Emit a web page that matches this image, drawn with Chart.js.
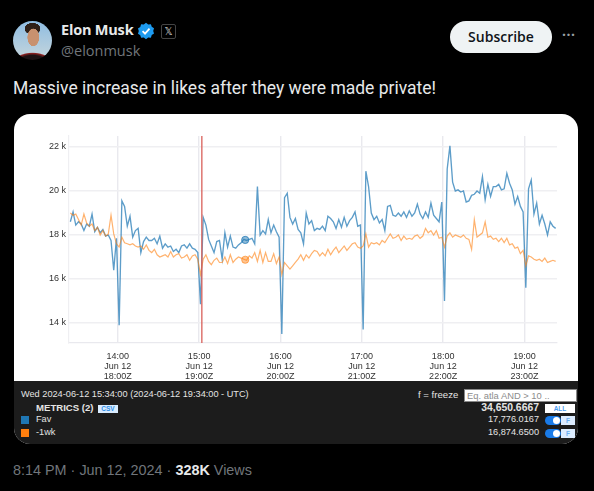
<!DOCTYPE html>
<html><head><meta charset="utf-8">
<script src="https://cdn.jsdelivr.net/npm/chart.js@4"></script>
<style>
html,body{margin:0;padding:0;background:#000;width:594px;height:491px;overflow:hidden}
body{position:relative;font-family:"Open Sans","Noto Sans",sans-serif;color:#e7e9ea}
.a{position:absolute;white-space:nowrap;line-height:1}
#avatar{left:13px;top:21px;width:39px;height:39px;border-radius:50%;overflow:hidden;
background:radial-gradient(ellipse 6px 9px at 52% 42%,#c8916f 0 95%,transparent 100%),radial-gradient(ellipse 8px 6px at 50% 20%,#2e2018 0 95%,transparent 100%),radial-gradient(ellipse 19px 10px at 50% 106%,#1c1214 0 70%,#8a2020 90%,transparent 100%),linear-gradient(#8fbde2,#c6d6dc)}
#card{left:14px;top:114px;width:564px;height:330px;border-radius:16px;overflow:hidden;background:#fff}
#chartbox{position:absolute;left:0;top:0;width:564px;height:267px}
#panel{position:absolute;left:0;top:267px;width:564px;height:63px;background:#1c1c1c}
.p{font-family:"Liberation Sans",sans-serif;font-size:9.2px;color:#e4e4e4}
.pv{font-family:"Liberation Sans",sans-serif;font-size:9.2px;color:#e4e4e4;right:39px}
</style></head><body>
<div class="a" id="avatar"></div>
<div class="a" style="left:61px;top:23px;font-size:14.5px;font-weight:700;letter-spacing:-.2px">Elon Musk</div>
<svg class="a" style="left:137px;top:22px" width="18" height="18" viewBox="0 0 22 22"><path fill="#1d9bf0" d="M11 1l2.700 2 3.300-.3 1 3.200 2.800 1.800-1 3.200 1 3.200-2.800 1.800-1 3.200-3.300-.3L11 21l-2.700-2-3.300.3-1-3.200-2.800-1.800 1-3.200-1-3.200 2.800-1.800 1-3.200 3.300.3z"/><path fill="none" stroke="#fff" stroke-width="2.2" d="M6.800 11.200l3 3 5.500-6"/></svg>
<div class="a" style="left:161px;top:24px;width:13px;height:13px;border:1px solid #444;border-radius:2px;font-size:10px;text-align:center;line-height:13px;color:#d8d8d8;font-family:'DejaVu Sans'">𝕏</div>
<div class="a" style="left:61px;top:44px;font-size:14.5px;color:#71767b">@elonmusk</div>
<div class="a" style="left:450px;top:21px;width:102px;height:32px;border-radius:16px;background:#eff3f4;color:#0f1419;font-size:14px;font-weight:600;text-align:center;line-height:31px">Subscribe</div>
<div class="a" style="left:562px;top:28px;font-size:14px;color:#9a9fa3;letter-spacing:.5px;font-weight:700">···</div>
<div class="a" style="left:13px;top:80px;font-size:17.5px;color:#e7e9ea;font-family:Roboto,sans-serif">Massive increase in likes after they were made private!</div>
<div class="a" id="card">
<div id="chartbox"><canvas id="c" width="564" height="267" style="width:564px;height:267px;display:block;filter:blur(.35px)"></canvas></div>
<div id="panel">
<div class="a p" style="left:7px;top:9px">Wed 2024-06-12 15:34:00 (2024-06-12 19:34:00 - UTC)</div>
<div class="a p" style="left:22px;top:22px;font-weight:700;font-size:9.6px">METRICS (2)</div>
<div class="a" style="left:84px;top:24px;width:20px;height:8px;background:#d9ecff;color:#2f8fe8;font:700 6.5px 'Liberation Sans';text-align:center;line-height:8px">CSV</div>
<div class="a" style="left:7px;top:35px;width:8px;height:8px;background:#1f77b4"></div>
<div class="a p" style="left:22px;top:34px">Fav</div>
<div class="a" style="left:7px;top:48px;width:8px;height:8px;background:#ff7f0e"></div>
<div class="a p" style="left:22px;top:47px">-1wk</div>
<div class="a p" style="left:404px;top:9px;font-size:9.6px">f = freeze</div>
<div class="a" style="left:450px;top:8px;width:109px;height:11px;background:#fff;border:.5px solid #888;color:#8c8c8c;font:9.4px 'Liberation Sans';line-height:11px;padding-left:2px;box-sizing:content-box">Eq. atla AND &gt; 10 ..</div>
<div class="a pv" style="top:22px;font-weight:700;font-size:10.4px">34,650.6667</div>
<div class="a pv" style="top:34px">17,776.0167</div>
<div class="a pv" style="top:47px">16,874.6500</div>
<div class="a" style="left:531px;top:23px;width:30px;height:9px;background:#fff;color:#4a9cf0;font:700 6.5px 'Liberation Sans';text-align:center;line-height:9px">ALL</div>
<div class="a" style="left:531px;top:35px;width:16px;height:9px;border-radius:5px;background:#1a7be8"></div>
<div class="a" style="left:539px;top:36px;width:7px;height:7px;border-radius:50%;background:#fff"></div>
<div class="a" style="left:547px;top:35px;width:14px;height:9px;background:#dcecff;color:#6aaef0;font:700 6.5px 'Liberation Sans';text-align:center;line-height:9px">F</div>
<div class="a" style="left:531px;top:48px;width:16px;height:9px;border-radius:5px;background:#1a7be8"></div>
<div class="a" style="left:539px;top:49px;width:7px;height:7px;border-radius:50%;background:#fff"></div>
<div class="a" style="left:547px;top:48px;width:14px;height:9px;background:#dcecff;color:#6aaef0;font:700 6.5px 'Liberation Sans';text-align:center;line-height:9px">F</div>
</div></div>
<div class="a" style="left:13px;top:463px;font-size:14.4px;color:#71767b;font-family:'Liberation Sans'">8:14 PM · Jun 12, 2024 · <b style="color:#e7e9ea">328K</b> Views</div>
<script>
const favValues=[18.6,19.05,18.45,18.6,18.5,18.2,18.5,18.4,18.95,18.15,18.35,18.1,18.25,17.95,18.0,17.75,16.4,17.85,13.9,19.55,
19.3,18.4,18.85,17.9,18.2,18.3,17.2,17.7,17.9,17.75,17.75,17.85,17.6,17.95,17.4,17.6,17.45,17.5,17.25,17.35,
17.2,17.5,17.55,17.4,17.6,17.4,17.35,17.2,14.85,18.8,18.45,17.8,17.5,17.2,17.7,17.75,16.9,18.1,17.45,17.95,
17.45,17.4,17.55,17.65,17.8,17.75,17.8,17.85,17.6,20.2,18.0,18.2,18.05,18.7,18.1,18.45,18.15,17.9,13.5,19.7,
19.9,18.8,18.5,18.75,18.25,18.1,17.6,19.0,18.5,18.65,18.2,18.3,18.25,18.4,18.2,18.85,18.75,18.6,18.3,18.7,
18.35,18.8,18.4,18.65,18.8,19.05,18.4,18.45,13.7,20.9,20.2,19.0,18.7,18.85,18.55,18.7,18.2,19.3,19.35,18.9,
18.85,19.0,18.85,19.05,18.8,19.1,18.85,19.0,19.4,18.95,18.75,19.05,18.8,19.45,18.9,18.75,18.6,19.5,15.0,21.0,
22.05,20.4,20.0,20.05,19.95,20.0,19.5,19.55,19.8,19.85,20.0,19.9,20.65,19.6,20.3,19.75,20.2,20.2,20.3,20.05,
20.1,20.8,20.35,20.05,19.4,19.75,19.3,19.05,15.6,20.1,20.5,18.95,19.45,18.5,18.9,18.5,18.0,18.6,18.4,18.3];
const weekValues=[19.0,18.9,18.95,18.7,18.45,18.95,18.55,18.4,18.5,18.2,18.35,18.0,18.2,17.95,18.05,18.9,18.05,17.6,17.45,17.9,
17.65,17.6,17.55,17.6,17.5,17.45,17.5,17.35,17.55,17.3,17.2,17.35,17.1,17.0,17.05,17.1,17.0,17.25,17.0,17.1,
17.15,16.95,17.0,17.1,16.85,17.05,17.1,16.9,16.2,16.9,17.1,16.8,16.65,16.85,16.95,16.75,16.75,17.0,16.7,17.1,
16.75,16.9,17.0,16.95,16.9,16.85,17.05,16.95,17.2,16.8,17.3,16.75,17.2,16.8,16.8,17.15,16.7,17.0,16.2,16.75,
16.6,16.45,16.6,16.75,16.9,17.1,16.85,17.1,16.95,17.15,17.3,17.25,17.05,17.2,17.05,17.35,17.1,17.3,17.45,17.2,
17.35,17.5,17.3,17.45,17.6,17.65,17.45,17.4,17.5,18.05,17.45,17.65,17.6,17.65,17.55,17.75,17.65,17.85,18.05,17.85,
17.9,18.0,17.75,17.95,17.8,17.85,17.8,17.95,18.0,17.85,17.95,18.3,18.1,18.2,18.0,18.2,17.85,17.9,17.45,17.95,
18.1,17.9,18.0,17.95,17.9,18.0,17.85,17.8,17.35,18.7,17.9,18.0,18.1,18.6,17.9,17.95,17.8,17.85,17.7,17.85,
17.65,17.85,17.55,17.6,17.4,17.45,17.15,17.3,16.6,17.05,17.0,16.9,16.85,16.9,16.8,16.95,16.75,16.8,16.85,16.8];
const yTicks=[14,16,18,20,22];
const hourTicks=[840,900,960,1020,1080,1140]; // minutes after midnight, local
const hourLabels={840:["14:00","Jun 12","18:00Z"],900:["15:00","Jun 12","19:00Z"],960:["16:00","Jun 12","20:00Z"],1020:["17:00","Jun 12","21:00Z"],1080:["18:00","Jun 12","22:00Z"],1140:["19:00","Jun 12","23:00Z"]};
const firstMinute=805, stepMinutes=2;
const cursorMinute=934, cursorFav=17.776, cursorWeek=16.875;
const eventMinute=902;
const toXY=a=>a.map((v,i)=>({x:firstMinute+i*stepMinutes,y:v}));
const yMin=13.09,yMax=22.5,xMin=804,xMax=1164;
new Chart(document.getElementById('c'),{type:'line',data:{datasets:[
 {data:[{x:eventMinute,y:yMin},{x:eventMinute,y:yMax}],borderColor:'#d9605a',borderWidth:1.3,pointRadius:0,order:1},
 {data:toXY(favValues),borderColor:'rgba(31,119,180,.72)',borderWidth:1.35,pointRadius:0,order:3},
 {data:toXY(weekValues),borderColor:'rgba(255,127,14,.6)',borderWidth:1.2,pointRadius:0,order:2},
 {data:[{x:cursorMinute,y:cursorFav}],pointRadius:3.6,pointBackgroundColor:'rgba(31,119,180,.5)',pointBorderColor:'rgba(31,119,180,.75)',pointBorderWidth:1,showLine:false,order:2},
 {data:[{x:cursorMinute,y:cursorWeek}],pointRadius:3.6,pointBackgroundColor:'rgba(255,127,14,.45)',pointBorderColor:'rgba(255,127,14,.6)',pointBorderWidth:1,showLine:false,order:2}
]},options:{responsive:false,animation:false,events:[],
 layout:{padding:{left:0,right:21,top:22,bottom:0}},
 plugins:{legend:{display:false},tooltip:{enabled:false}},
 scales:{
  x:{type:'linear',min:xMin,max:xMax,afterBuildTicks:s=>{s.ticks=hourTicks.map(v=>({value:v}))},afterFit:s=>{s.height=38},
     grid:{color:'#e9e9ee',lineWidth:1.4,drawTicks:false},border:{color:'#e9e9ee',width:1.2},
     ticks:{autoSkip:false,maxRotation:0,padding:9,color:'#333',font:{family:'Liberation Sans',size:9,lineHeight:1.07},callback:v=>hourLabels[v]||''}},
  y:{min:yMin,max:yMax,afterBuildTicks:s=>{s.ticks=yTicks.map(v=>({value:v}))},afterFit:s=>{s.width=55},
     grid:{color:'#efeff2',lineWidth:1.4,drawTicks:false},border:{color:'#efeff2',width:1.2},
     ticks:{padding:3,color:'#333',font:{family:'Liberation Sans',size:9},callback:v=>v+' k'}}
 }}
});
</script>
</body></html>
